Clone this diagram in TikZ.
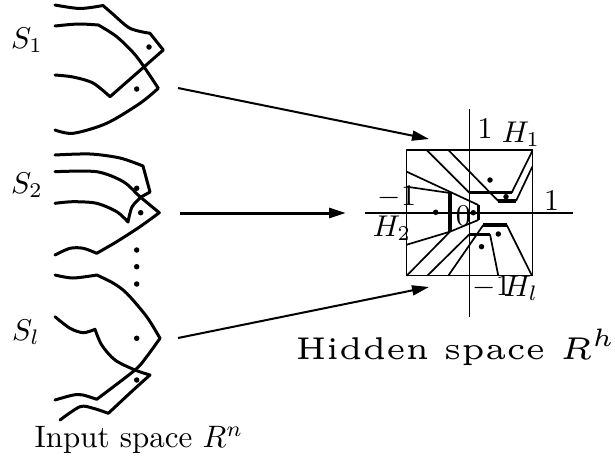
\documentclass[tikz,border=0pt]{standalone}
\usepackage{graphicx}
\usetikzlibrary{arrows.meta}
\begin{document}
\begin{tikzpicture}[x=1pt,y=-1pt,
  shp/.style={line width=3pt,line join=round,line cap=round},
  boxl/.style={line width=1.1pt},
  thinl/.style={line width=1.7pt},
  thickl/.style={line width=3.5pt},
  pt/.style={circle,fill,inner sep=0pt,minimum size=5.5pt},
  lbl/.style={inner sep=0pt},
  arr/.style={line width=2pt,-{Triangle[length=17pt,width=10pt]}}]
\useasboundingbox (0,0) rectangle (615,461);
% ---- input space shapes ----
% S1
\draw[shp] plot[smooth] coordinates {(55,5)(80,8.5)(103,5.5)} -- plot[smooth] coordinates {(103,5.5)(112,13.3)(130,28.3)(150,33.3)} -- (163.3,50) -- (110,96.7) -- plot[smooth] coordinates {(110,96.7)(93,83)(73,77)(55,75)};
\draw[shp] plot[smooth] coordinates {(55,26)(78,24)(98.3,25)} -- plot[smooth] coordinates {(98.3,25)(116.7,36.7)(136.7,56.7)(158.3,88.3)} -- plot[smooth] coordinates {(158.3,88.3)(140,103.3)(106.7,123.3)(73.3,133.3)(55,130)};
% S2
\draw[shp] plot[smooth] coordinates {(55,155)(90,154)(120,158)(143,166)} -- (150,192) -- (141,197) -- plot[smooth] coordinates {(141,197)(132,207)(128,222)} -- plot[smooth] coordinates {(128,222)(116.7,211.7)(96.7,203.3)(73.3,201.7)(55,203.3)};
\draw[shp] plot[smooth] coordinates {(55,171.7)(96.7,171.7)(123.3,181.7)(140,196.7)(159.3,212.7)} -- plot[smooth] coordinates {(159.3,212.7)(140,226.7)(116.7,241.7)(96.7,253.3)} -- plot[smooth] coordinates {(96.7,253.3)(83.3,248.3)(70,248.3)(55,255)};
% Sl
\draw[shp] plot[smooth] coordinates {(55,275)(73,278)(96.7,275)} -- plot[smooth] coordinates {(96.7,275)(113,283)(126.7,293.3)(146.7,316.7)(160,338.3)} -- plot[smooth] coordinates {(160,338.3)(146.7,356.7)(135,370)(96.7,399.3)} -- plot[smooth] coordinates {(96.7,399.3)(83,395)(73.3,395)(55,400)};
\draw[shp] plot[smooth] coordinates {(55,316.7)(70,328.3)(83.3,332.7)(95,329.3)} -- plot[smooth] coordinates {(95,329.3)(101.7,345)(115,360)(135,370)(150,375)} -- plot[smooth] coordinates {(150,375)(133.3,390)(108.3,413.3)} -- plot[smooth] coordinates {(108.3,413.3)(93.3,408.3)(80,406.7)(60,420)};
% dots
\node[pt] (d1) at (149,47) {};
\node[pt] (d2) at (136.7,89) {};
\node[pt] (d3) at (136.7,188.3) {};
\node[pt] (d4) at (140.7,212.7) {};
\node[pt] (v1) at (136.7,250) {};
\node[pt] (v2) at (136.7,266.7) {};
\node[pt] (v3) at (136.7,284) {};
\node[pt] (d5) at (136.7,338.3) {};
\node[pt] (d6) at (136.7,380) {};
% labels
\node[lbl] (s1) at (27,40) {\scalebox{3}{$S_1$}};
\node[lbl] (s2) at (27,185) {\scalebox{3}{$S_2$}};
\node[lbl] (sl) at (26,332) {\scalebox{3}{$S_l$}};
\node[lbl] (inp) at (139,440) {\scalebox{3.1}{Input space $R^n$}};
% ---- hidden space ----
\draw[boxl] (406.7,150) rectangle (532.3,275.7);
\draw[boxl] (365,213) -- (573,213);
\draw[boxl] (469.3,109) -- (469.3,317);
% H1
\draw[thinl] (426.7,150) -- (469.3,192.7);
\draw[thickl] (469.3,192.7) -- (511.7,192.7);
\draw[thinl] (511.7,192.7) -- (532.3,151);
\draw[thinl] (448.3,150) -- (498.3,201);
\draw[thickl] (498.3,201) -- (516,201);
\draw[thinl] (516,201) -- (532.3,166.7);
% H2
\draw[thinl] (406.7,186.7) -- (450,193);
\draw[thickl] (450,193) -- (450,231.7);
\draw[thinl] (450,231.7) -- (406.7,244.7);
\draw[thinl] (406.7,171.7) -- (478.3,205);
\draw[thickl] (478.3,205) -- (478.3,220);
\draw[thinl,line join=round] (478.3,220) -- (450,231.7) -- (406.7,275.7);
% Hl
\draw[thinl] (427.3,275.7) -- (469.3,234.3);
\draw[thickl] (469.3,234.3) -- (490,234.3);
\draw[thinl] (490,234.3) -- (498.3,275.7);
\draw[thinl] (448.3,275.7) -- (483.3,225);
\draw[thickl] (483.3,225) -- (506.7,225);
\draw[thinl] (506.7,225) -- (532,275.7);
% hidden dots
\node[pt] (h1) at (490,180) {};
\node[pt] (h2) at (506,196.7) {};
\node[pt] (h3) at (435.7,212.3) {};
\node[pt] (h4) at (473.3,212.7) {};
\node[pt] (h5) at (481.5,246.7) {};
\node[pt] (h6) at (498.3,234) {};
% hidden labels
\node[lbl] (one1) at (485,129) {\scalebox{3}{$1$}};
\node[lbl] (hh1) at (521,134) {\scalebox{3}{$H_1$}};
\node[lbl] (one2) at (551.7,201) {\scalebox{3}{$1$}};
\node[lbl] (m1a) at (397,197) {\scalebox{3}{$-1$}};
\node[lbl] (hh2) at (392,228) {\scalebox{3}{$H_2$}};
\node[lbl] (zero) at (463.3,216) {\scalebox{3}{$0$}};
\node[lbl] (m1b) at (491.7,287) {\scalebox{3}{$-1$}};
\node[lbl] (hhl) at (521,288) {\scalebox{3}{$H_l$}};
\node[lbl] (hid) at (456,347) {\scalebox{6.3}{\fontsize{5}{6}\selectfont Hidden space $R^{\scalebox{0.8}{$h$}}$}};
% arrows
\coordinate (a1s) at (178,88);
\coordinate (a1e) at (429,139);
\coordinate (a2s) at (180,213);
\coordinate (a2e) at (346,213);
\coordinate (a3s) at (178,338);
\coordinate (a3e) at (429,287);
\draw[arr] (a1s) -- (a1e);
\draw[arr,line width=3pt] (a2s) -- (a2e);
\draw[arr] (a3s) -- (a3e);
\end{tikzpicture}
\end{document}
